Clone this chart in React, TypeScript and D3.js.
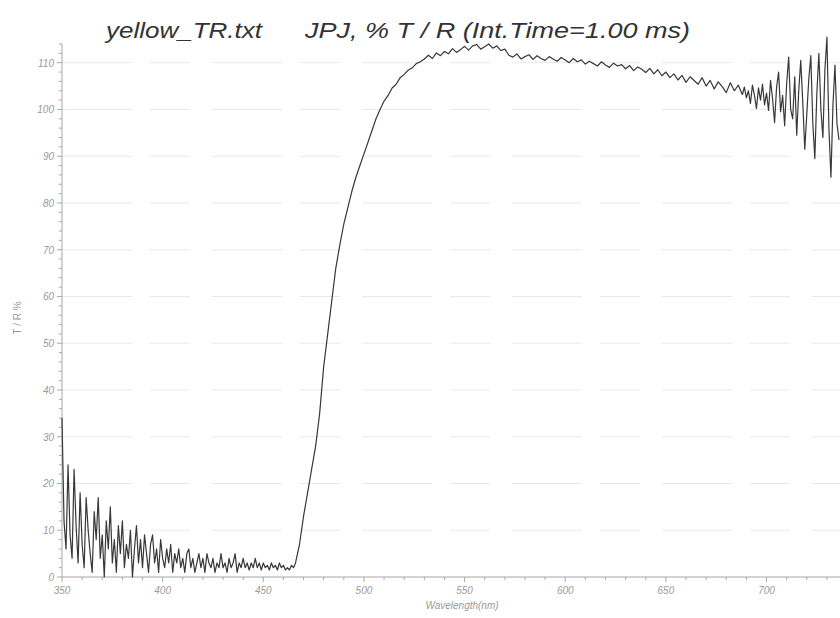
import React from "react";
import * as d3 from "d3";

const W = 840;
const H = 618;

const titleFile = "yellow_TR.txt";
const titleMain = "JPJ, % T / R (Int.Time=1.00 ms)";
const xLabel = "Wavelength(nm)";
const yLabel = "T / R %";

const xTicks = [350, 400, 450, 500, 550, 600, 650, 700];
const yTicks = [0, 10, 20, 30, 40, 50, 60, 70, 80, 90, 100, 110];

// Segment A: 350–465 nm, every 1 nm (noisy UV region)
const segAStart = 350;
const segAStep = 1;
const trA = [
  34, 12, 6, 24, 9, 4, 23, 11, 3, 18,
  7, 2, 17, 10, 5, 1, 14, 8, 17, 4,
  9, 0, 12, 6, 15, 3, 8, 1, 11, 5,
  12, 2, 7, 4, 10, 0, 6, 11, 3, 8,
  2, 9, 5, 1, 7, 9, 3, 6, 1, 8,
  4, 2, 6, 3, 7, 1, 5, 3, 6, 2,
  4, 1, 5, 6, 2, 4, 1, 3, 5, 2,
  4, 1, 5, 3, 2, 4, 1, 3, 2, 5,
  2, 3, 1, 4, 2, 3, 5, 1, 3, 2,
  4, 2, 3, 1.5, 3, 2, 4, 2, 3, 1.5,
  3, 2, 2.5, 1.5, 3, 2, 2.5, 1.5, 3, 2,
  2.5, 1.5, 2, 1.5, 2.5, 2,
];

// Segment B: 466–688 nm, every 2 nm (edge and plateau)
const segBStart = 466;
const segBStep = 2;
const trB = [
  3, 7, 13, 18, 23, 28, 35, 45, 52, 59,
  66, 71, 75.5, 79, 82.5, 85.5, 88, 90.5, 93, 95.5,
  98, 100, 101.8, 103, 104.6, 105.4, 106.8, 107.5, 108.4, 108.9,
  109.8, 110.2,
  110.8, 111.6, 110.9, 112.1, 111.5, 112.4, 111.9, 113.0, 112.2, 112.8,
  113.5, 112.7, 113.6, 113.9, 112.9, 113.4, 114.0, 113.1, 113.6, 112.6,
  112.9, 111.6, 111.2, 111.9, 110.8, 111.3, 111.7, 110.7, 111.5, 110.9,
  110.5, 111.3, 110.8, 110.3, 111.1, 110.6, 110.0, 110.9, 110.2, 110.6,
  109.7, 110.3, 109.8, 109.3, 110.2, 109.5, 109.0, 109.9, 109.3, 109.6,
  108.7, 109.4, 108.3, 109.1, 108.6, 107.9, 108.8, 107.6, 108.5, 107.2,
  108.0, 106.8, 107.6, 106.3, 107.3, 105.8, 107.0, 106.2, 105.4, 106.8,
  105.0, 106.2, 104.4, 105.9, 104.9, 103.6, 105.7, 104.0, 105.2, 103.2,
];

// Segment C: 689–736 nm, every 1 nm (noisy NIR end)
const segCStart = 689;
const segCStep = 1;
const trC = [
  104.8, 102.5, 104.0, 101.3, 105.2, 103.0, 100.2, 104.6, 102.0, 105.4,
  101.0, 103.5, 99.8, 106.2, 102.3, 97.2, 104.8, 108.0, 99.5, 103.0,
  96.5, 105.5, 111.2, 100.0, 98.0, 107.0, 94.5, 104.0, 110.5, 101.5,
  91.5, 99.0, 106.5, 111.5, 97.0, 89.5, 103.5, 112.0, 100.0, 94.0,
  108.5, 115.5, 96.0, 85.5, 101.0, 109.5, 97.0, 93.5,
];

type Pt = { wl: number; v: number };
const data: Pt[] = [
  ...trA.map((v, i) => ({ wl: segAStart + i * segAStep, v })),
  ...trB.map((v, i) => ({ wl: segBStart + i * segBStep, v })),
  ...trC.map((v, i) => ({ wl: segCStart + i * segCStep, v })),
];

export default function App() {
  const x = d3.scaleLinear().domain([350, 736.5]).range([62, 840]);
  const y = d3.scaleLinear().domain([0, 114]).range([577, 44]);

  const line = d3
    .line<Pt>()
    .x((d) => x(d.wl))
    .y((d) => y(d.v));

  const yMinor = d3.range(0, 114.1, 2);
  const xMinor = d3.range(350, 737, 10);
  const axisColor = "#a8a8a8";
  const textColor = "#9a9a9a";

  return (
    <svg
      width={W}
      height={H}
      style={{ position: "absolute", left: 0, top: 0, background: "#fff" }}
      fontFamily="Liberation Sans, Arial, sans-serif"
    >
      <rect x={0} y={0} width={W} height={H} fill="#fff" />
      {yTicks.filter((t) => t > 0).map((t) => (
        <line
          key={"g" + t}
          x1={x(350)}
          x2={W}
          y1={y(t)}
          y2={y(t)}
          stroke="#e9e9e9"
          strokeWidth={1}
          strokeDasharray="70 18 40 22"
        />
      ))}
      <line x1={x(350)} x2={x(350)} y1={y(0)} y2={y(114)} stroke={axisColor} strokeWidth={1} />
      <line x1={x(350)} x2={W} y1={y(0)} y2={y(0)} stroke={axisColor} strokeWidth={1.2} />
      {yMinor.map((t) => (
        <line
          key={"ym" + t}
          x1={x(350) - (t % 10 === 0 ? 5 : 3)}
          x2={x(350)}
          y1={y(t)}
          y2={y(t)}
          stroke={axisColor}
          strokeWidth={1}
        />
      ))}
      {xMinor.map((t) => (
        <line
          key={"xm" + t}
          x1={x(t)}
          x2={x(t)}
          y1={y(0)}
          y2={y(0) + (t % 50 === 0 ? 5 : 3)}
          stroke={axisColor}
          strokeWidth={1}
        />
      ))}
      {yTicks.map((t) => (
        <text
          key={"yl" + t}
          x={x(350) - 8}
          y={y(t) + 4}
          textAnchor="end"
          fontSize={10}
          fontStyle="italic"
          fill={textColor}
        >
          {t}
        </text>
      ))}
      {xTicks.map((t) => (
        <text
          key={"xl" + t}
          x={x(t)}
          y={y(0) + 17}
          textAnchor="middle"
          fontSize={10}
          fontStyle="italic"
          fill={textColor}
        >
          {t}
        </text>
      ))}
      <text x={462} y={609} textAnchor="middle" fontSize={10} fontStyle="italic" fill={textColor}>
        {xLabel}
      </text>
      <text transform={`translate(21, 318) rotate(-90)`} textAnchor="middle" fontSize={10} fill={textColor}>
        {yLabel}
      </text>
      <path d={line(data) || ""} fill="none" stroke="#383838" strokeWidth={1.2} strokeLinejoin="round" />
      <text
        x={106}
        y={38}
        fontSize={22}
        fontStyle="italic"
        fill="#333"
        textLength={156}
        lengthAdjust="spacingAndGlyphs"
      >
        {titleFile}
      </text>
      <text
        x={305}
        y={38}
        fontSize={22}
        fontStyle="italic"
        fill="#333"
        textLength={385}
        lengthAdjust="spacingAndGlyphs"
      >
        {titleMain}
      </text>
    </svg>
  );
}
